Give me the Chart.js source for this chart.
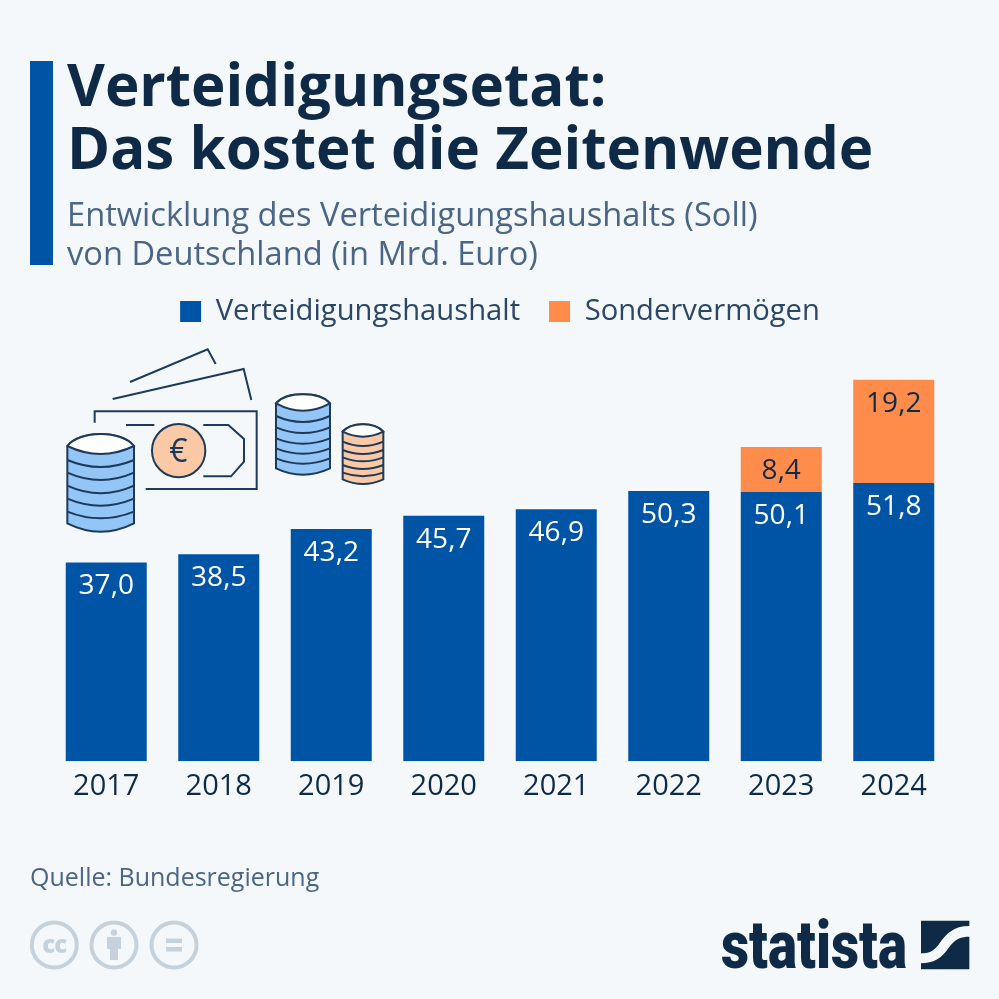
<!DOCTYPE html>
<html lang="de"><head><meta charset="utf-8">
<script src="https://cdn.jsdelivr.net/npm/chart.js@4"></script>
<style>
html,body{margin:0;padding:0;background:#f4f8fb;overflow:hidden}
#wrap{position:relative;width:999px;height:999px;font-family:'Open Sans',sans-serif}
canvas{position:absolute;left:0;top:0}
.t{position:absolute;white-space:nowrap;margin:0}
.h{font-weight:700;font-size:58.3px;line-height:63px;color:#0f2a47;left:67px}
.s{font-size:32.65px;line-height:40px;color:#4a6585;left:67px}
svg{position:absolute;left:0;top:0}
</style></head><body>
<div id="wrap">
<canvas id="c" width="999" height="999"></canvas>
<div style="position:absolute;left:30px;top:61px;width:23px;height:204px;background:#0054a6"></div>
<div class="t h" style="top:52px">Verteidigungsetat:</div>
<div class="t h" style="top:115px">Das kostet die Zeitenwende</div>
<div class="t s" style="top:194px">Entwicklung des Verteidigungshaushalts (Soll)</div>
<div class="t s" style="top:233px">von Deutschland (in Mrd. Euro)</div>
<div class="t" style="left:30px;top:860px;font-size:25px;line-height:32px;color:#4a6585">Quelle: Bundesregierung</div>
<svg width="999" height="999" viewBox="0 0 999 999">
 <g transform="translate(50,340) scale(0.33333)" fill="none" stroke="#1d3a5a" stroke-width="6">
  <path d="M240 126L473 28L497 72M188 177L581 87L604 180M134 248V214H620V447H287M228 255H313M460 255H535L582 297V365L543 409H460"/>
  <circle cx="386" cy="332" r="80" fill="#fcc9a6"/>
  <text x="385" y="366" font-family="Open Sans" font-size="96" text-anchor="middle" fill="#1d3a5a" stroke="none">€</text>
  <path fill="#93c5f7" d="M52 318C90 270 214 270 252 318V550Q152 600 52 550Z"/>
  <path fill="#fff" d="M52 318C90 270 214 270 252 318Q152 366 52 318Z"/>
  <path d="M52 360Q152 402 252 360M52 398Q152 442 252 398M52 437Q152 483 252 437M52 476Q152 518 252 476M52 515Q152 555 252 515"/>
  <path fill="#93c5f7" d="M678 190C710 154 808 154 840 190V385Q759 423 678 385Z"/>
  <path fill="#fff" d="M678 190C710 154 808 154 840 190Q759 234 678 190Z"/>
  <path d="M678 228Q759 264 840 228M678 262Q759 296 840 262M678 295Q759 327 840 295M678 325Q759 357 840 325M678 355Q759 387 840 355"/>
  <path fill="#fcc9a6" d="M878 275C905 245 973 245 1000 275V418Q939 446 878 418Z"/>
  <path fill="#fff" d="M878 275C905 245 973 245 1000 275Q939 305 878 275Z"/>
  <path d="M878 305Q939 331 1000 305M878 330Q939 354 1000 330M878 352Q939 376 1000 352M878 375Q939 399 1000 375M878 398Q939 420 1000 398"/>
 </g>
 <g fill="none" stroke="#c5d2dc" stroke-width="4">
  <circle cx="54.3" cy="945" r="22.5"/><circle cx="114" cy="945" r="22.5"/><circle cx="174" cy="945" r="22.5"/>
 </g>
 <text x="54.3" y="953" text-anchor="middle" font-family="Open Sans" font-weight="800" font-size="24" letter-spacing="-1" fill="#c5d2dc">cc</text>
 <g fill="#c5d2dc">
  <circle cx="114" cy="932.5" r="3.2"/>
  <path d="M107 937H121V949H118V960H110V949H107Z"/>
  <rect x="166" y="938.5" width="16" height="4.5"/><rect x="166" y="947" width="16" height="4.5"/>
 </g>
 <text x="721" y="968" font-family="Roboto" font-weight="900" font-size="66" textLength="186" lengthAdjust="spacingAndGlyphs" fill="#0f2a47">statista</text>
 <g transform="translate(700,900) scale(0.33333)" fill="#0f2a47">
  <path d="M663 62H808V78C760 78 740 100 715 135C700 155 685 160 663 160Z"/>
  <path d="M808 110V208H663V190C700 190 725 175 745 145C765 115 785 110 808 110Z"/>
 </g>
</svg>
</div>
<script>
const years = ['2017','2018','2019','2020','2021','2022','2023','2024'];
const haushalt = [37.0,38.5,43.2,45.7,46.9,50.3,50.1,51.8];
const sonder = [null,null,null,null,null,null,8.4,19.2];
const seriesNames = ['Verteidigungshaushalt','Sondervermögen'];
const BLUE='#0054a6', ORANGE='#ff8c4a', DARK='#0f2a47';
const fontFam="'Open Sans', sans-serif";
const labelPlugin={id:'barLabels',afterDatasetsDraw(chart){
  const ctx=chart.ctx;
  chart.data.datasets.forEach((ds,i)=>{
    chart.getDatasetMeta(i).data.forEach((bar,j)=>{
      const v=ds.data[j]; if(v==null) return;
      ctx.save();
      ctx.font='28px '+fontFam; ctx.textAlign='center'; ctx.textBaseline='middle';
      ctx.fillStyle=i===0?'#ffffff':DARK;
      ctx.fillText(v.toFixed(1).replace('.',','),bar.x,bar.y+24);
      ctx.restore();
    });
  });
}};
document.fonts.load('28px "Open Sans"').finally(()=>{
new Chart(document.getElementById('c'),{
  type:'bar',
  data:{labels:years,datasets:[
    {label:seriesNames[0],data:haushalt,backgroundColor:BLUE},
    {label:seriesNames[1],data:sonder,backgroundColor:ORANGE}
  ]},
  options:{
    responsive:false,animation:false,devicePixelRatio:1,
    layout:{padding:{left:50,right:49,top:268,bottom:195}},
    datasets:{bar:{categoryPercentage:0.72,barPercentage:1}},
    plugins:{
      legend:{display:true,position:'top',labels:{boxWidth:21,boxHeight:21,padding:29,color:'#2b4766',font:{family:fontFam,size:29.2}}},
      tooltip:{enabled:false},title:{display:false}
    },
    scales:{
      x:{stacked:true,grid:{display:false},border:{display:false},
         ticks:{color:DARK,font:{family:fontFam,size:29},padding:0,maxRotation:0}},
      y:{stacked:true,display:false,min:0,max:79.1}
    }
  },
  plugins:[labelPlugin]
});
});
</script>
</body></html>
